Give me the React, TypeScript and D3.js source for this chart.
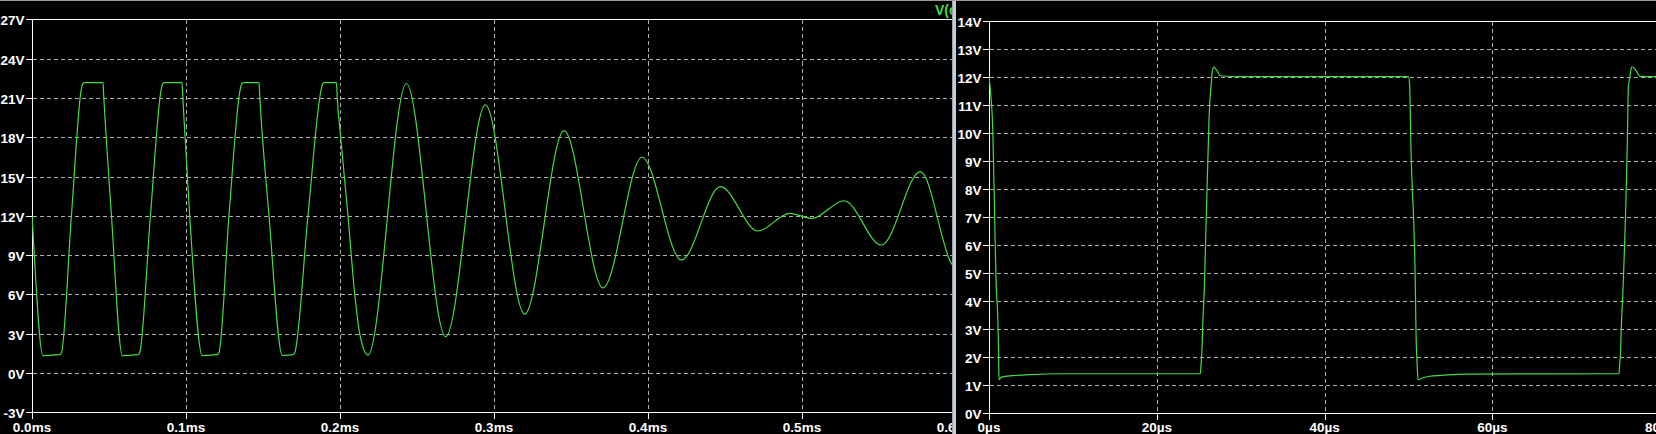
import React from "react";
import * as d3 from "d3";

// ---- Left pane: V(out) transient, time in microseconds ----
const leftTimesUs = [0, 0.65, 7.1, 8.5, 17.8, 19.1, 25.6, 32.1, 33.1, 34.3, 46.1, 46.6, 51.6, 58.7, 60.0, 68.7, 69.9, 76.9, 84.0, 85.0, 86.2, 97.4, 97.9, 102.4, 110.6, 112.0, 120.2, 121.4, 127.9, 135.3, 136.3, 137.5, 147.4, 147.9, 153.9, 162.6, 163.8, 169.4, 170.6, 179.2, 187.9, 188.9, 190.1, 197.7, 198.2, 199.8, 205.2, 209.5, 212.8, 218.2, 243.1, 268.6, 294.4, 319.9, 345.5, 370.8, 396.1, 421.7, 447.0, 471.4, 492.0, 506.5, 527.3, 551.6, 576.9, 597.0, 600.0];
const leftVolts = [12.0, 10.7, 1.32, 1.34, 1.40, 1.55, 12.0, 21.7, 22.1, 22.16, 22.16, 21.1, 12.0, 1.32, 1.34, 1.40, 1.55, 12.0, 21.7, 22.1, 22.16, 22.16, 21.1, 12.0, 1.32, 1.34, 1.40, 1.55, 12.0, 21.7, 22.1, 22.16, 22.16, 21.1, 12.0, 1.32, 1.34, 1.40, 1.55, 12.0, 21.7, 22.1, 22.16, 22.16, 21.0, 18.8, 12.0, 6.1, 3.0, 1.37, 22.1, 2.77, 20.46, 4.5, 18.5, 6.5, 16.47, 8.63, 14.22, 10.84, 12.19, 11.80, 13.15, 9.77, 15.37, 8.37, 7.9];
const leftYTicks = [-3, 0, 3, 6, 9, 12, 15, 18, 21, 24, 27];
const leftXTicksUs = [0, 100, 200, 300, 400, 500, 600];
const leftXTickLabels = ["0.0ms", "0.1ms", "0.2ms", "0.3ms", "0.4ms", "0.5ms", "0.6ms"];
const leftTraceLabel = "V(o";

// ---- Right pane: zoomed square wave, time in microseconds ----
const rightTimesUs = [0, 0.2, 0.4, 0.88, 1.07, 1.15, 1.19, 1.48, 2.82, 4.85, 9.0, 25.19, 25.27, 25.39, 25.47, 25.59, 25.66, 26.22, 26.31, 26.43, 26.51, 26.63, 26.82, 27.02, 27.29, 27.58, 30.0, 49.99, 50.14, 50.27, 50.82, 50.88, 51.05, 51.13, 51.65, 52.52, 53.91, 56.8, 75.09, 75.17, 75.29, 75.37, 75.49, 75.56, 76.09, 76.21, 76.40, 76.60, 76.88, 77.28, 77.56, 80.0];
const rightVolts = [12.0, 11.4, 10.5, 4.4, 3.2, 1.97, 1.19, 1.28, 1.33, 1.37, 1.40, 1.40, 1.72, 2.3, 3.1, 3.9, 4.4, 10.46, 11.06, 11.53, 11.83, 12.22, 12.34, 12.27, 12.15, 12.03, 12.0, 12.0, 11.7, 9.73, 4.4, 3.15, 1.6, 1.19, 1.25, 1.31, 1.34, 1.39, 1.40, 1.72, 2.3, 3.1, 3.9, 4.4, 9.75, 11.65, 12.0, 12.35, 12.3, 12.14, 12.01, 12.0];
const rightYTicks = [0, 1, 2, 3, 4, 5, 6, 7, 8, 9, 10, 11, 12, 13, 14];
const rightXTicksUs = [0, 20, 40, 60, 80];
const rightXTickLabels = ["0µs", "20µs", "40µs", "60µs", "80µs"];

const W = 1656;
const H = 434;
const FONT = "'Liberation Sans', Arial, sans-serif";
const TRACE = "#44dd44";
const GRID = "#b0b0b0";

const px = (v: number) => Math.round(v) + 0.5;

function Pane(props: {
  x: d3.ScaleLinear<number, number>;
  y: d3.ScaleLinear<number, number>;
  times: number[];
  volts: number[];
  yTicks: number[];
  xTicks: number[];
  xLabels: string[];
  clipId: string;
  clipX0: number;
  clipX1: number;
}) {
  const { x, y, times, volts, yTicks, xTicks, xLabels, clipId, clipX0, clipX1 } = props;
  const [x0] = x.range();
  const [yBot, yTop] = y.range();
  const line = d3
    .line<number>()
    .x((_, i) => x(times[i]))
    .y((d) => y(d))
    .curve(d3.curveMonotoneX);
  const yMin = y.domain()[0];
  const yMax = y.domain()[1];
  return (
    <g clipPath={`url(#${clipId})`}>
      <defs>
        <clipPath id={clipId}>
          <rect x={clipX0} y={0} width={clipX1 - clipX0} height={H} />
        </clipPath>
        <clipPath id={clipId + "-plot"}>
          <rect x={x0} y={yTop} width={clipX1 - x0} height={yBot - yTop} />
        </clipPath>
      </defs>
      {yTicks
        .filter((v) => v !== yMin && v !== yMax)
        .map((v) => (
          <line key={"hg" + v} x1={px(x0)} x2={clipX1} y1={px(y(v))} y2={px(y(v))} stroke={GRID} strokeDasharray="4,3" shapeRendering="crispEdges" />
        ))}
      {xTicks
        .filter((t) => t !== 0)
        .map((t) => (
          <line key={"vg" + t} x1={px(x(t))} x2={px(x(t))} y1={px(yTop)} y2={px(yBot)} stroke={GRID} strokeDasharray="4,3" shapeRendering="crispEdges" />
        ))}
      <line x1={px(x0)} x2={px(x0)} y1={px(yTop)} y2={px(yBot)} stroke="#fff" shapeRendering="crispEdges" />
      <line x1={px(x0)} x2={clipX1} y1={px(yTop)} y2={px(yTop)} stroke="#fff" shapeRendering="crispEdges" />
      <line x1={px(x0)} x2={clipX1} y1={px(yBot)} y2={px(yBot)} stroke="#fff" shapeRendering="crispEdges" />
      {yTicks.map((v) => (
        <g key={"yt" + v}>
          <line x1={px(x0) - 7} x2={px(x0)} y1={px(y(v))} y2={px(y(v))} stroke="#fff" shapeRendering="crispEdges" />
          <text x={px(x0) - 8} y={px(y(v)) + 5} textAnchor="end" fill="#fff" fontFamily={FONT} fontWeight="bold" fontSize={13.5}>
            {v + "V"}
          </text>
        </g>
      ))}
      {xTicks.map((t, i) => (
        <g key={"xt" + t}>
          <line x1={px(x(t))} x2={px(x(t))} y1={px(yBot)} y2={px(yBot) + 6} stroke="#fff" shapeRendering="crispEdges" />
          <text x={x(t)} y={431.5} textAnchor="middle" fill="#fff" fontFamily={FONT} fontWeight="bold" fontSize={13.5}>
            {xLabels[i]}
          </text>
        </g>
      ))}
      <g clipPath={`url(#${clipId}-plot)`}>
        <path d={line(volts) || ""} fill="none" stroke={TRACE} strokeWidth={1.2} strokeLinejoin="round" />
      </g>
    </g>
  );
}

export default function App() {
  const xL = d3.scaleLinear().domain([0, 600]).range([32, 956]);
  const yL = d3.scaleLinear().domain([-3, 27]).range([412.3, 19.3]);
  const xR = d3.scaleLinear().domain([0, 80]).range([989, 1660.2]);
  const yR = d3.scaleLinear().domain([0, 14]).range([413, 20.5]);
  return (
    <svg
      width={W}
      height={H}
      viewBox={`0 0 ${W} ${H}`}
      style={{ position: "absolute", left: 0, top: 0, display: "block", background: "#000" }}
    >
      <rect x={0} y={0} width={W} height={H} fill="#000" />
      <Pane x={xL} y={yL} times={leftTimesUs} volts={leftVolts} yTicks={leftYTicks} xTicks={leftXTicksUs} xLabels={leftXTickLabels} clipId="clipL" clipX0={0} clipX1={952} />
      <g clipPath="url(#clipL)">
        <text x={935} y={15} fill={TRACE} fontFamily={FONT} fontWeight="bold" fontSize={14}>
          {leftTraceLabel}
        </text>
      </g>
      <Pane x={xR} y={yR} times={rightTimesUs} volts={rightVolts} yTicks={rightYTicks} xTicks={rightXTicksUs} xLabels={rightXTickLabels} clipId="clipR" clipX0={956} clipX1={W} />
      <rect x={952} y={0} width={4} height={H} fill="#c4ccd6" />
      <line x1={952.5} x2={952.5} y1={0} y2={H} stroke="#9aa2ac" />
      <rect x={0} y={0} width={W} height={1} fill="#9a9a9a" />
    </svg>
  );
}
